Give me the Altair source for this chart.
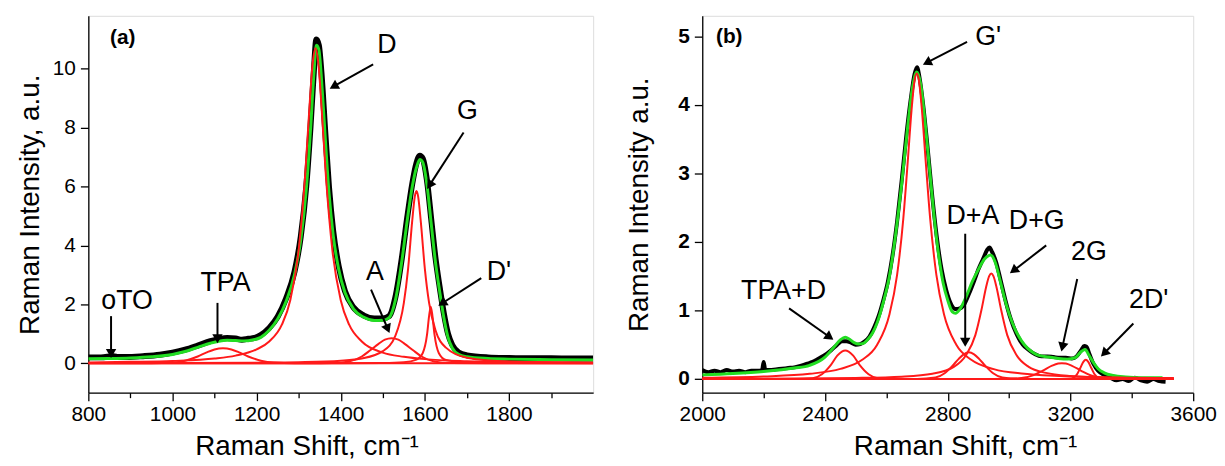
import math
import altair as alt
import pandas as pd

FONT = "Liberation Sans"

# ---------------- Panel (a) ----------------
A_XDOM = [800, 2000]
A_YDOM = [-1, 11.8]
A_W, A_H = 509, 380

A_DATA_X = [800, 830, 860, 870, 890, 930, 970, 1000, 1030, 1060, 1090, 1110, 1130, 1150, 1165, 1180, 1195, 1210,
            1230, 1250, 1270, 1290, 1305, 1318, 1328, 1336, 1342, 1348, 1355, 1363, 1372, 1382, 1395, 1410, 1430,
            1455, 1480, 1500, 1515, 1530, 1545, 1558, 1570, 1580, 1588, 1595, 1605, 1615, 1625, 1635, 1645, 1655,
            1665, 1680, 1700, 1750, 1800, 1850, 1900, 1950, 2000]
A_DATA_Y = [0.2, 0.2, 0.24, 0.21, 0.21, 0.24, 0.29, 0.36, 0.46, 0.6, 0.75, 0.82, 0.86, 0.84, 0.8, 0.83, 0.86, 0.96,
            1.2, 1.58, 2.2, 3.1, 4.3, 6.0, 8.0, 9.9, 11.0, 10.8, 9.7, 7.9, 6.0, 4.5, 3.3, 2.45, 1.9,
            1.62, 1.52, 1.52, 1.6, 2.25, 3.55, 4.95, 6.1, 6.8, 7.05, 6.95, 6.2, 4.9, 3.6, 2.6, 1.7, 1.0,
            0.62, 0.37, 0.27, 0.2, 0.18, 0.17, 0.17, 0.16, 0.16]

A_FIT_X = [800, 850, 900, 950, 1000, 1030, 1060, 1090, 1110, 1130, 1150, 1170, 1190, 1210, 1230, 1250, 1270, 1290,
           1305, 1318, 1328, 1336, 1342, 1348, 1355, 1363, 1372, 1382, 1395, 1410, 1430, 1455, 1480, 1500, 1515,
           1530, 1545, 1558, 1570, 1580, 1588, 1595, 1605, 1615, 1625, 1635, 1645, 1655, 1665, 1680, 1700, 1750,
           1800, 1900, 2000]
A_FIT_Y = [0.15, 0.16, 0.18, 0.22, 0.3, 0.4, 0.54, 0.68, 0.75, 0.78, 0.77, 0.76, 0.79, 0.88, 1.12, 1.5, 2.1, 3.0,
           4.2, 5.9, 7.9, 9.8, 10.8, 10.65, 9.5, 7.7, 5.8, 4.35, 3.2, 2.4, 1.85, 1.56, 1.45, 1.46, 1.55,
           2.15, 3.45, 4.85, 6.0, 6.65, 6.92, 6.82, 6.05, 4.75, 3.45, 2.45, 1.55, 0.88, 0.52, 0.3, 0.22, 0.16,
           0.14, 0.12, 0.11]

A_TPA_X = [800, 950, 1000, 1030, 1060, 1080, 1100, 1120, 1140, 1160, 1180, 1210, 1240, 1290, 1400, 2000]
A_TPA_Y = [0.0, 0.001, 0.022, 0.088, 0.23, 0.36, 0.47, 0.51, 0.47, 0.36, 0.23, 0.088, 0.022, 0.001, 0.0, 0.0]

A_D_X = [800, 900, 1000, 1100, 1150, 1200, 1230, 1260, 1280, 1300, 1315, 1325, 1333, 1340, 1347, 1355, 1365,
         1380, 1400, 1420, 1450, 1500, 1550, 1600, 1700, 1800, 2000]
A_D_Y = [0.03, 0.05, 0.08, 0.16, 0.26, 0.47, 0.74, 1.31, 2.14, 3.85, 6.3, 8.56, 10.15, 10.7, 10.15, 8.56, 6.3,
         3.85, 2.14, 1.31, 0.74, 0.36, 0.22, 0.14, 0.07, 0.04, 0.02]

A_A_X = [800, 1300, 1380, 1420, 1450, 1470, 1490, 1505, 1521, 1537, 1552, 1572, 1592, 1622, 1662, 1750, 2000]
A_A_Y = [0.0, 0.0, 0.005, 0.061, 0.23, 0.44, 0.66, 0.8, 0.85, 0.8, 0.66, 0.44, 0.23, 0.061, 0.005, 0.0, 0.0]

A_G_X = [800, 1000, 1200, 1300, 1400, 1450, 1500, 1530, 1550, 1560, 1570, 1576, 1580, 1584, 1590, 1600, 1610,
         1625, 1650, 1700, 1800, 2000]
A_G_Y = [0.005, 0.008, 0.02, 0.036, 0.085, 0.16, 0.41, 0.94, 2.05, 3.2, 4.85, 5.66, 5.85, 5.66, 4.85, 3.2, 2.05,
         1.13, 0.53, 0.19, 0.06, 0.016]

A_DP_X = [800, 1400, 1500, 1550, 1580, 1595, 1605, 1610, 1614, 1618, 1623, 1633, 1650, 1700, 1800, 2000]
A_DP_Y = [0.0, 0.003, 0.012, 0.037, 0.125, 0.35, 0.96, 1.6, 1.92, 1.6, 0.96, 0.35, 0.11, 0.021, 0.005, 0.001]

A_LABELS = ["D", "G", "D'", "A", "TPA", "oTO"]
A_LAB_X = [1510, 1701, 1776, 1481, 1126, 892]
A_LAB_Y = [10.8, 8.57, 3.1, 3.1, 2.72, 2.1]
A_ARR_X1 = [1477, 1692, 1734, 1472, 1107, 854]
A_ARR_Y1 = [10.15, 7.84, 2.89, 2.5, 2.05, 1.6]
A_ARR_X2 = [1378, 1608, 1636, 1514, 1107, 854]
A_ARR_Y2 = [9.36, 5.98, 1.99, 1.09, 0.75, 0.25]

A_YTICKS_MAJOR = [0, 2, 4, 6, 8, 10]
A_YTICKS_MINOR = [1, 3, 5, 7, 9, 11]
A_XTICKS_MAJOR = [800, 1000, 1200, 1400, 1600, 1800]
A_XTICKS_MINOR = [900, 1100, 1300, 1500, 1700, 1900]

# ---------------- Panel (b) ----------------
B_XDOM = [2000, 3600]
B_YDOM = [-0.2, 5.3]
B_W, B_H = 495, 380

B_DATA_X = [2000, 2020, 2040, 2060, 2080, 2100, 2120, 2140, 2160, 2180, 2195, 2200, 2205, 2220, 2240, 2260, 2280,
            2300, 2320, 2340, 2360, 2380, 2400, 2420, 2440, 2455, 2470, 2485, 2500, 2515, 2530, 2545, 2560, 2575,
            2590, 2605, 2620, 2635, 2650, 2665, 2680, 2692, 2700, 2708, 2720, 2735, 2750, 2765, 2780, 2795, 2810,
            2825, 2840, 2855, 2870, 2885, 2900, 2915, 2928, 2936, 2945, 2958, 2972, 2988, 3005, 3025, 3045, 3065,
            3085, 3105, 3125, 3145, 3165, 3185, 3205, 3220, 3235, 3245, 3252, 3262, 3275, 3290, 3310, 3330, 3350,
            3370, 3390, 3410, 3430, 3450, 3470, 3490, 3510]
B_DATA_Y = [0.13, 0.1, 0.12, 0.1, 0.13, 0.11, 0.12, 0.1, 0.12, 0.12, 0.13, 0.25, 0.14, 0.13, 0.14, 0.15, 0.16,
            0.17, 0.19, 0.22, 0.25, 0.3, 0.35, 0.42, 0.5, 0.55, 0.55, 0.53, 0.5, 0.51, 0.55, 0.62, 0.75, 0.92,
            1.15, 1.42, 1.8, 2.3, 2.9, 3.55, 4.1, 4.45, 4.55, 4.4, 4.0, 3.35, 2.65, 2.05, 1.6, 1.3, 1.1,
            1.02, 1.03, 1.1, 1.25, 1.42, 1.6, 1.75, 1.88, 1.92, 1.85, 1.7, 1.45, 1.15, 0.88, 0.65, 0.5, 0.42,
            0.36, 0.33, 0.33, 0.32, 0.31, 0.31, 0.3, 0.33, 0.42, 0.48, 0.47, 0.36, 0.22, 0.12, 0.06, 0.02, -0.02,
            0.0, -0.03, 0.02, -0.02, -0.04, 0.0, -0.03, -0.04]

B_FIT_X = [2000, 2100, 2200, 2300, 2350, 2400, 2430, 2450, 2466, 2480, 2495, 2510, 2525, 2540, 2555, 2570, 2590,
           2610, 2630, 2650, 2670, 2685, 2699, 2712, 2725, 2740, 2755, 2770, 2785, 2800, 2815, 2825, 2840, 2860,
           2880, 2900, 2920, 2940, 2955, 2970, 2985, 3000, 3020, 3040, 3060, 3080, 3100, 3130, 3160, 3190, 3215,
           3235, 3248, 3260, 3275, 3290, 3310, 3340, 3380, 3430, 3500]
B_FIT_Y = [0.06, 0.08, 0.11, 0.16, 0.2, 0.32, 0.47, 0.57, 0.61, 0.58, 0.53, 0.51, 0.52, 0.58, 0.67, 0.82, 1.12,
           1.5, 2.1, 2.85, 3.7, 4.25, 4.48, 4.3, 3.8, 3.1, 2.4, 1.82, 1.4, 1.15, 0.98, 0.96, 1.02, 1.2,
           1.42, 1.6, 1.75, 1.81, 1.7, 1.45, 1.18, 0.95, 0.72, 0.56, 0.45, 0.38, 0.34, 0.32, 0.3, 0.29, 0.31,
           0.4, 0.43, 0.35, 0.24, 0.15, 0.09, 0.05, 0.03, 0.02, 0.02]

B_TPAD_X = [2000, 2300, 2360, 2390, 2420, 2440, 2455, 2466, 2477, 2492, 2512, 2542, 2572, 2630, 3537]
B_TPAD_Y = [0.0, 0.0, 0.012, 0.07, 0.21, 0.34, 0.4, 0.415, 0.4, 0.34, 0.21, 0.07, 0.012, 0.0, 0.0]

B_GP_X = [2000, 2200, 2350, 2450, 2520, 2570, 2610, 2635, 2655, 2670, 2682, 2692, 2699, 2706, 2716, 2728, 2743,
          2763, 2788, 2828, 2878, 2950, 3050, 3200, 3537]
B_GP_Y = [0.019, 0.037, 0.076, 0.147, 0.276, 0.5, 0.94, 1.52, 2.33, 3.19, 3.92, 4.36, 4.46, 4.36, 3.92, 3.19, 2.33,
          1.52, 0.94, 0.5, 0.276, 0.144, 0.076, 0.037, 0.013]

B_DA_X = [2000, 2700, 2760, 2790, 2815, 2835, 2852, 2869, 2886, 2903, 2923, 2948, 2978, 3040, 3537]
B_DA_Y = [0.0, 0.0, 0.021, 0.083, 0.19, 0.29, 0.36, 0.39, 0.36, 0.29, 0.19, 0.083, 0.021, 0.0, 0.0]

B_DG_X = [2000, 2300, 2500, 2650, 2750, 2820, 2860, 2890, 2910, 2925, 2935, 2942, 2949, 2959, 2974, 2994, 3024,
          3064, 3120, 3200, 3350, 3537]
B_DG_Y = [0.0034, 0.007, 0.015, 0.034, 0.077, 0.177, 0.35, 0.64, 1.01, 1.34, 1.5, 1.54, 1.5, 1.34, 1.01, 0.64, 0.35,
          0.177, 0.089, 0.044, 0.018, 0.0084]

B_2G_X = [2000, 2950, 3040, 3080, 3110, 3140, 3160, 3172, 3185, 3205, 3235, 3265, 3305, 3400, 3537]
B_2G_Y = [0.0, 0.0, 0.013, 0.057, 0.122, 0.194, 0.225, 0.23, 0.225, 0.192, 0.12, 0.055, 0.013, 0.0, 0.0]

B_2DP_X = [2000, 3180, 3205, 3220, 3232, 3242, 3250, 3258, 3268, 3280, 3295, 3320, 3537]
B_2DP_Y = [0.0, 0.0, 0.008, 0.059, 0.16, 0.25, 0.28, 0.25, 0.16, 0.059, 0.008, 0.0, 0.0]

B_LABELS = ["G'", "TPA+D", "D+A", "D+G", "2G", "2D'"]
B_LAB_X = [2932, 2265, 2882, 3090, 3260, 3455]
B_LAB_Y = [4.99, 1.29, 2.38, 2.31, 1.85, 1.15]
B_ARR_X1 = [2863, 2283, 2857, 3121, 3222, 3405]
B_ARR_Y1 = [4.92, 1.03, 2.12, 1.95, 1.46, 0.81]
B_ARR_X2 = [2725, 2422, 2857, 3008, 3172, 3304]
B_ARR_Y2 = [4.6, 0.59, 0.5, 1.56, 0.43, 0.35]

B_YTICKS_MAJOR = [0, 1, 2, 3, 4, 5]
B_YTICKS_MINOR = [0.5, 1.5, 2.5, 3.5, 4.5]
B_XTICKS_MAJOR = [2000, 2400, 2800, 3200, 3600]
B_XTICKS_MINOR = [2200, 2600, 3000, 3400]


def series(xs, ys, name):
    return pd.DataFrame({"x": xs, "y": ys, "s": name})


def arrows_df(x1, y1, x2, y2, xdom, ydom, w, h):
    kx = w / (xdom[1] - xdom[0])
    ky = h / (ydom[1] - ydom[0])
    rows = []
    for a, b, c, d in zip(x1, y1, x2, y2):
        dxp = (c - a) * kx
        dyp = -(d - b) * ky
        L = math.hypot(dxp, dyp)
        ang = math.degrees(math.atan2(dxp, -dyp)) % 360
        back = 4.0
        hx = c - (dxp / L) * back / kx
        hy = d + (dyp / L) * back / ky
        rows.append({"x1": a, "y1": b, "x2": c, "y2": d, "hx": hx, "hy": hy, "ang": ang})
    return pd.DataFrame(rows)


def major_test(vals):
    return " || ".join(f"abs(datum.value - ({v})) < 1e-6" for v in vals)


def panel(xdom, ydom, w, h, data_df, fit_df, comp_df, lab_df, arr_df, tag, tag_x, tag_y,
          xmaj, xmin, ymaj, ymin, ytitle, ybold, data_width, ytitle_pad, xtitle_x):
    xt = major_test(xmaj)
    yt = major_test(ymaj)
    xaxis = alt.Axis(values=sorted(xmaj + xmin), format="d",
                     labelExpr=f"({xt}) ? datum.label : ''",
                     tickSize={"condition": {"test": xt, "value": 8}, "value": 5},
                     title="Raman Shift, cm\u207b\u00b9", grid=False, labelFontSize=21, titleFontSize=28,
                     labelPadding=3, titlePadding=8, labelFont=FONT, titleFont=FONT, titleFontWeight="normal",
                     titleX=xtitle_x, titleAlign="center",
                     domainColor="black", tickColor="black", labelColor="black", titleColor="black",
                     tickWidth=1.3, domainWidth=1.3, labelFlush=False, labelOverlap=False)
    yaxis = alt.Axis(values=sorted(ymaj + ymin), format="d",
                     labelExpr=f"({yt}) ? datum.label : ''",
                     tickSize={"condition": {"test": yt, "value": 8}, "value": 5},
                     title=ytitle, grid=False, labelFontSize=21, titleFontSize=28, labelPadding=5,
                     titlePadding=ytitle_pad, labelFont=FONT, titleFont=FONT,
                     titleFontWeight="normal", labelFontWeight="bold" if ybold else "normal",
                     domainColor="black", tickColor="black", labelColor="black", titleColor="black",
                     tickWidth=1.3, domainWidth=1.3, labelOverlap=False, labelFlush=False)
    xs = alt.Scale(domain=xdom, nice=False, zero=False)
    ys = alt.Scale(domain=ydom, nice=False, zero=False)

    black = alt.Chart(data_df).mark_line(color="black", strokeWidth=data_width, interpolate="monotone",
                                         clip=True).encode(
        x=alt.X("x:Q", scale=xs, axis=xaxis), y=alt.Y("y:Q", scale=ys, axis=yaxis))
    green = alt.Chart(fit_df).mark_line(color="#22dd22", strokeWidth=3, interpolate="monotone",
                                        clip=True).encode(x="x:Q", y="y:Q")
    red = alt.Chart(comp_df).mark_line(color="#ff1a1a", strokeWidth=2, interpolate="monotone",
                                       clip=True).encode(x="x:Q", y="y:Q", detail="s:N")
    texts = alt.Chart(lab_df).mark_text(font=FONT, fontSize=27, color="black", align="center",
                                        baseline="middle").encode(x="x:Q", y="y:Q", text="t:N")
    tagc = alt.Chart(pd.DataFrame({"x": [tag_x], "y": [tag_y], "t": [tag]})).mark_text(
        font=FONT, fontSize=21, fontWeight="bold", color="black", align="center", baseline="middle").encode(
        x="x:Q", y="y:Q", text="t:N")
    rules = alt.Chart(arr_df).mark_rule(color="black", strokeWidth=2).encode(
        x="x1:Q", y="y1:Q", x2="hx:Q", y2="hy:Q")
    heads = alt.Chart(arr_df).mark_point(shape="triangle", filled=True, size=110, color="black",
                                         opacity=1).encode(
        x="hx:Q", y="hy:Q", angle=alt.Angle("ang:Q", scale=None))
    return alt.layer(black, green, red, rules, heads, texts, tagc).properties(width=w, height=h)


a_data = series(A_DATA_X, A_DATA_Y, "data")
a_fit = series(A_FIT_X, A_FIT_Y, "fit")
a_comp = pd.concat([series(A_TPA_X, A_TPA_Y, "TPA"), series(A_D_X, A_D_Y, "D"), series(A_A_X, A_A_Y, "A"),
                    series(A_G_X, A_G_Y, "G"), series(A_DP_X, A_DP_Y, "D'")])
a_lab = pd.DataFrame({"x": A_LAB_X, "y": A_LAB_Y, "t": A_LABELS})
a_arr = arrows_df(A_ARR_X1, A_ARR_Y1, A_ARR_X2, A_ARR_Y2, A_XDOM, A_YDOM, A_W, A_H)

b_data = series(B_DATA_X, B_DATA_Y, "data")
b_fit = series(B_FIT_X, B_FIT_Y, "fit")
b_comp = pd.concat([series(B_TPAD_X, B_TPAD_Y, "TPA+D"), series(B_GP_X, B_GP_Y, "G'"),
                    series(B_DA_X, B_DA_Y, "D+A"), series(B_DG_X, B_DG_Y, "D+G"),
                    series(B_2G_X, B_2G_Y, "2G"), series(B_2DP_X, B_2DP_Y, "2D'")])
b_lab = pd.DataFrame({"x": B_LAB_X, "y": B_LAB_Y, "t": B_LABELS})
b_arr = arrows_df(B_ARR_X1, B_ARR_Y1, B_ARR_X2, B_ARR_Y2, B_XDOM, B_YDOM, B_W, B_H)

pa = panel(A_XDOM, A_YDOM, A_W, A_H, a_data, a_fit, a_comp, a_lab, a_arr, "(a)", 882, 11.05,
           A_XTICKS_MAJOR, A_XTICKS_MINOR, A_YTICKS_MAJOR, A_YTICKS_MINOR, "Raman Intensity, a.u.", False, 6, 8,
           220)
pb = panel(B_XDOM, B_YDOM, B_W, B_H, b_data, b_fit, b_comp, b_lab, b_arr, "(b)", 2088, 4.99,
           B_XTICKS_MAJOR, B_XTICKS_MINOR, B_YTICKS_MAJOR, B_YTICKS_MINOR, "Raman Intensity a.u.", True, 4, 25,
           265)

chart = alt.hconcat(pa, pb, spacing=30).properties(
    padding={"left": 8, "top": 5, "right": 0, "bottom": 0}
).configure_view(stroke="black", strokeWidth=1.3).configure(background="white")

chart.save("out.html", embed_options={"renderer": "svg", "actions": False})
